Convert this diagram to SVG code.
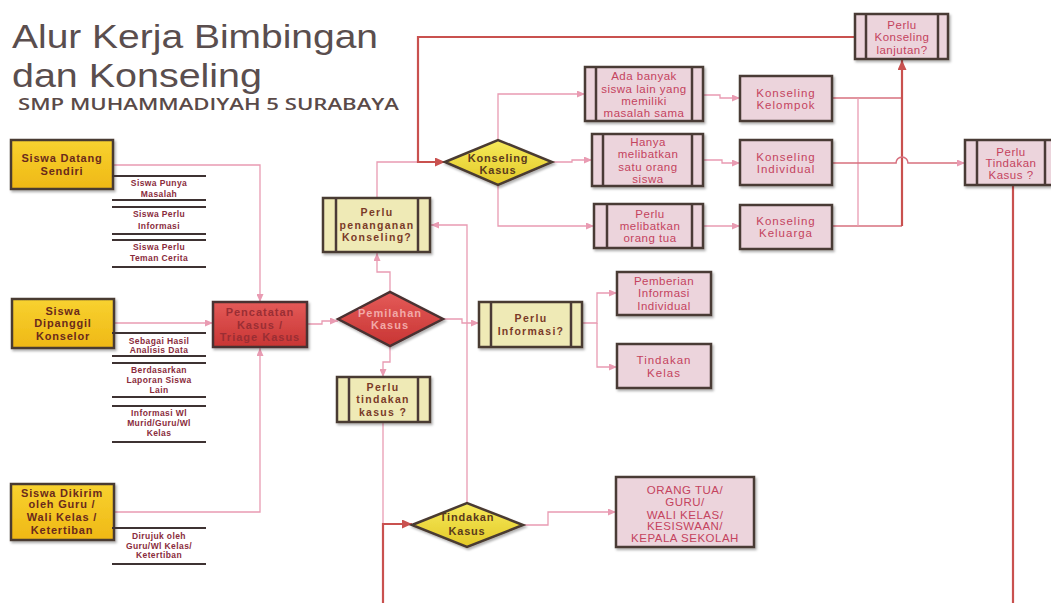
<svg xmlns="http://www.w3.org/2000/svg" width="1051" height="603" viewBox="0 0 1051 603">
<defs>
  <filter id="sh" x="-10%" y="-10%" width="130%" height="140%">
    <feDropShadow dx="1.5" dy="2" stdDeviation="1.2" flood-color="#000" flood-opacity="0.3"/>
  </filter>
  <linearGradient id="gold" x1="0" y1="0" x2="0" y2="1">
    <stop offset="0" stop-color="#f8d230"/><stop offset="1" stop-color="#efb815"/>
  </linearGradient>
  <linearGradient id="red" x1="0" y1="0" x2="0" y2="1">
    <stop offset="0" stop-color="#e45a58"/><stop offset="1" stop-color="#c83534"/>
  </linearGradient>
  <linearGradient id="ylw" x1="0" y1="0" x2="0" y2="1">
    <stop offset="0" stop-color="#f6ea5a"/><stop offset="1" stop-color="#e3c928"/>
  </linearGradient>
  <marker id="ap" viewBox="0 0 8 7" refX="8" refY="3.5" markerWidth="8" markerHeight="7" markerUnits="userSpaceOnUse" orient="auto">
    <path d="M0,0 L8,3.5 L0,7 z" fill="#e99bb2"/>
  </marker>
  <marker id="ar" viewBox="0 0 10 9" refX="10" refY="4.5" markerWidth="10" markerHeight="9" markerUnits="userSpaceOnUse" orient="auto">
    <path d="M0,0 L10,4.5 L0,9 z" fill="#c9514f"/>
  </marker>
</defs>
<style>
  .t{font-family:"Liberation Sans",Arial,sans-serif;text-anchor:middle}
  .gold{fill:url(#gold);stroke:#4a3a30;stroke-width:2.5}
  .pale{fill:#efeab6;stroke:#4a3a30;stroke-width:2.5}
  .pink{fill:#ecd4dc;stroke:#4a3a36;stroke-width:2.5}
  .redb{fill:url(#red);stroke:#4a3030;stroke-width:2.5}
  .ydia{fill:url(#ylw);stroke:#4a3a30;stroke-width:2.5}
  .div{stroke:#4a3a36;stroke-width:2.5}
  .c{fill:none;stroke:#e99bb2;stroke-width:1.3}
  .cr{fill:none;stroke:#c9514f;stroke-width:2.2}
  .cm{fill:none;stroke:#d7707e;stroke-width:1.6}
  .gt{font-size:11px;font-weight:bold;fill:#6a2a1c;letter-spacing:0.8px}
  .st{font-size:8.5px;font-weight:bold;fill:#8a2c3c;letter-spacing:0.4px}
  .pt{font-size:11.5px;fill:#c4435e;letter-spacing:0.5px}
  .kt{font-size:11.5px;fill:#c4435e;letter-spacing:1px}
  .yt{font-size:10.5px;font-weight:bold;fill:#7a3a28;letter-spacing:1.3px}
  .rt{font-size:11px;font-weight:bold;fill:#9a2e34;letter-spacing:1px}
  .rl{font-size:11px;font-weight:bold;fill:#f2aaa8;letter-spacing:1px}
  .dt{font-size:11px;font-weight:bold;fill:#5a3a1c;letter-spacing:0.8px}
  .sl{stroke:#3e3232;stroke-width:2.2}
  .title{font-family:"Liberation Sans",Arial,sans-serif;font-size:33px;fill:#5a4e4e}
  .sub{font-family:"Open Sans","Liberation Sans",sans-serif;font-size:17px;font-weight:600;fill:#5a4a48}
</style>

<g id="title">
  <text class="title" x="12" y="48" textLength="366" lengthAdjust="spacingAndGlyphs">Alur Kerja Bimbingan</text>
  <text class="title" x="12" y="87" textLength="250" lengthAdjust="spacingAndGlyphs">dan Konseling</text>
  <text class="sub" x="18" y="110" textLength="381" lengthAdjust="spacingAndGlyphs">SMP MUHAMMADIYAH 5 SURABAYA</text>
</g>

<g id="connectors">
  <path class="c" d="M114,165 H260 V302" marker-end="url(#ap)"/>
  <path class="c" d="M114,323 H213" marker-end="url(#ap)"/>
  <path class="c" d="M114,512 H260 V348" marker-end="url(#ap)"/>
  <path class="c" d="M307,324 H322 V321 H338" marker-end="url(#ap)"/>
  <path class="c" d="M390,292 V272 H377 V253" marker-end="url(#ap)"/>
  <path class="c" d="M390,346 V362 H383 V377" marker-end="url(#ap)"/>
  <path class="c" d="M443,319 H462 V323 H479" marker-end="url(#ap)"/>
  <path class="c" d="M377,198 V162 H418"/>
  <path class="cr" d="M855,37 H418 V162 H445" marker-end="url(#ar)"/>
  <path class="c" d="M498,140 V94 H585" marker-end="url(#ap)"/>
  <path class="c" d="M552,162 H572 V160 H592" marker-end="url(#ap)"/>
  <path class="c" d="M498,185 V226 H594" marker-end="url(#ap)"/>
  <path class="c" d="M703,95 H720 V98 H740" marker-end="url(#ap)"/>
  <path class="c" d="M703,160 H722 V163 H740" marker-end="url(#ap)"/>
  <path class="c" d="M703,226 H740" marker-end="url(#ap)"/>
  <path class="cm" d="M832,98 H902"/>
  <path class="cm" d="M832,226 H902"/>
  <path class="c" d="M858,98 V226"/>
  <path class="cr" d="M902,226 V60" marker-end="url(#ar)"/>
  <path class="cm" d="M832,163 H896 A6,6 0 0 1 908,163 H965" marker-end="url(#ap)"/>
  <path class="cr" d="M1013,185 V603"/>
  <path class="c" d="M383,422 V524"/>
  <path class="cr" d="M383,603 V524 H412" marker-end="url(#ar)"/>
  <path class="c" d="M467,503 V225 H431" marker-end="url(#ap)"/>
  <path class="c" d="M523,525 H548 V512 H616" marker-end="url(#ap)"/>
  <path class="c" d="M582,323 H597 V293 H617" marker-end="url(#ap)"/>
  <path class="c" d="M597,323 V367 H617" marker-end="url(#ap)"/>
</g>

<g id="siswa-datang">
  <rect class="gold" x="11" y="140" width="102" height="49" filter="url(#sh)"/>
  <text class="t gt" x="62" y="162">Siswa Datang</text>
  <text class="t gt" x="62" y="175">Sendiri</text>
</g>
<g id="list-datang">
  <line class="sl" x1="112" y1="176" x2="206" y2="176"/>
  <line class="sl" x1="112" y1="200" x2="206" y2="200"/>
  <line class="sl" x1="112" y1="207" x2="206" y2="207"/>
  <line class="sl" x1="112" y1="234" x2="206" y2="234"/>
  <line class="sl" x1="112" y1="240" x2="206" y2="240"/>
  <line class="sl" x1="112" y1="267" x2="206" y2="267"/>
  <text class="t st" x="159" y="186">Siswa Punya</text>
  <text class="t st" x="159" y="197">Masalah</text>
  <text class="t st" x="159" y="217">Siswa Perlu</text>
  <text class="t st" x="159" y="229">Informasi</text>
  <text class="t st" x="159" y="250">Siswa Perlu</text>
  <text class="t st" x="159" y="261">Teman Cerita</text>
</g>

<g id="siswa-dipanggil">
  <rect class="gold" x="12" y="299" width="102" height="49" filter="url(#sh)"/>
  <text class="t gt" x="63" y="315">Siswa</text>
  <text class="t gt" x="63" y="327">Dipanggil</text>
  <text class="t gt" x="63" y="340">Konselor</text>
</g>
<g id="list-dipanggil">
  <line class="sl" x1="112" y1="333" x2="206" y2="333"/>
  <line class="sl" x1="112" y1="356" x2="206" y2="356"/>
  <line class="sl" x1="112" y1="363" x2="206" y2="363"/>
  <line class="sl" x1="112" y1="397" x2="206" y2="397"/>
  <line class="sl" x1="112" y1="406" x2="206" y2="406"/>
  <line class="sl" x1="112" y1="442" x2="206" y2="442"/>
  <text class="t st" x="159" y="344">Sebagai Hasil</text>
  <text class="t st" x="159" y="353">Analisis Data</text>
  <text class="t st" x="159" y="373">Berdasarkan</text>
  <text class="t st" x="159" y="383">Laporan Siswa</text>
  <text class="t st" x="159" y="393">Lain</text>
  <text class="t st" x="159" y="416">Informasi Wl</text>
  <text class="t st" x="159" y="426">Murid/Guru/Wl</text>
  <text class="t st" x="159" y="436">Kelas</text>
</g>

<g id="siswa-dikirim">
  <rect class="gold" x="11" y="484" width="103" height="56" filter="url(#sh)"/>
  <text class="t gt" x="62" y="497">Siswa Dikirim</text>
  <text class="t gt" x="62" y="508">oleh Guru /</text>
  <text class="t gt" x="62" y="521">Wali Kelas /</text>
  <text class="t gt" x="62" y="534">Ketertiban</text>
</g>
<g id="list-dikirim">
  <line class="sl" x1="112" y1="528" x2="206" y2="528"/>
  <line class="sl" x1="112" y1="564" x2="206" y2="564"/>
  <text class="t st" x="159" y="539">Dirujuk oleh</text>
  <text class="t st" x="159" y="549">Guru/Wl Kelas/</text>
  <text class="t st" x="159" y="558">Ketertiban</text>
</g>

<g id="pencatatan">
  <rect class="redb" x="213" y="302" width="94" height="45" filter="url(#sh)"/>
  <text class="t rt" x="260" y="316">Pencatatan</text>
  <text class="t rt" x="260" y="329">Kasus /</text>
  <text class="t rt" x="260" y="341">Triage Kasus</text>
</g>

<g id="pemilahan">
  <polygon class="redb" points="338,319 390,292 443,319 390,346" filter="url(#sh)"/>
  <text class="t rl" x="390" y="317">Pemilahan</text>
  <text class="t rl" x="390" y="329">Kasus</text>
</g>

<g id="perlu-penanganan">
  <rect class="pale" x="323" y="198" width="107" height="54" filter="url(#sh)"/>
  <line class="div" x1="336" y1="198" x2="336" y2="252"/>
  <line class="div" x1="418" y1="198" x2="418" y2="252"/>
  <text class="t yt" x="377" y="216">Perlu</text>
  <text class="t yt" x="377" y="229">penanganan</text>
  <text class="t yt" x="377" y="241">Konseling?</text>
</g>

<g id="perlu-tindakan">
  <rect class="pale" x="337" y="377" width="93" height="45" filter="url(#sh)"/>
  <line class="div" x1="349" y1="377" x2="349" y2="422"/>
  <line class="div" x1="418" y1="377" x2="418" y2="422"/>
  <text class="t yt" x="383" y="391">Perlu</text>
  <text class="t yt" x="383" y="403">tindakan</text>
  <text class="t yt" x="383" y="416">kasus ?</text>
</g>

<g id="perlu-informasi">
  <rect class="pale" x="479" y="302" width="103" height="45" filter="url(#sh)"/>
  <line class="div" x1="491" y1="302" x2="491" y2="347"/>
  <line class="div" x1="571" y1="302" x2="571" y2="347"/>
  <text class="t yt" x="531" y="322">Perlu</text>
  <text class="t yt" x="531" y="335">Informasi?</text>
</g>

<g id="pemberian-informasi">
  <rect class="pink" x="617" y="272" width="94" height="43" filter="url(#sh)"/>
  <text class="t pt" x="664" y="285">Pemberian</text>
  <text class="t pt" x="664" y="297">Informasi</text>
  <text class="t pt" x="664" y="310">Individual</text>
</g>

<g id="tindakan-kelas">
  <rect class="pink" x="617" y="344" width="94" height="44" filter="url(#sh)"/>
  <text class="t kt" x="664" y="364">Tindakan</text>
  <text class="t kt" x="664" y="377">Kelas</text>
</g>

<g id="konseling-kasus">
  <polygon class="ydia" points="445,162 498,140 552,162 498,185" filter="url(#sh)"/>
  <text class="t dt" x="498" y="162">Konseling</text>
  <text class="t dt" x="498" y="174">Kasus</text>
</g>

<g id="tindakan-kasus">
  <polygon class="ydia" points="412,525 467,503 523,525 467,547" filter="url(#sh)"/>
  <text class="t dt" x="467" y="521">Tindakan</text>
  <text class="t dt" x="467" y="535">Kasus</text>
</g>

<g id="pihak-terkait">
  <rect class="pink" x="616" y="477" width="138" height="70" filter="url(#sh)"/>
  <text class="t pt" x="685" y="494">ORANG TUA/</text>
  <text class="t pt" x="685" y="506">GURU/</text>
  <text class="t pt" x="685" y="519">WALI KELAS/</text>
  <text class="t pt" x="685" y="530">KESISWAAN/</text>
  <text class="t pt" x="685" y="542">KEPALA SEKOLAH</text>
</g>

<g id="ada-banyak">
  <rect class="pink" x="585" y="67" width="118" height="54" filter="url(#sh)"/>
  <line class="div" x1="596" y1="67" x2="596" y2="121"/>
  <line class="div" x1="692" y1="67" x2="692" y2="121"/>
  <text class="t pt" x="644" y="80">Ada banyak</text>
  <text class="t pt" x="644" y="93">siswa lain yang</text>
  <text class="t pt" x="644" y="105">memiliki</text>
  <text class="t pt" x="644" y="117">masalah sama</text>
</g>

<g id="hanya-melibatkan">
  <rect class="pink" x="592" y="134" width="111" height="52" filter="url(#sh)"/>
  <line class="div" x1="603" y1="134" x2="603" y2="186"/>
  <line class="div" x1="692" y1="134" x2="692" y2="186"/>
  <text class="t pt" x="648" y="146">Hanya</text>
  <text class="t pt" x="648" y="158">melibatkan</text>
  <text class="t pt" x="648" y="171">satu orang</text>
  <text class="t pt" x="648" y="183">siswa</text>
</g>

<g id="perlu-melibatkan">
  <rect class="pink" x="594" y="204" width="109" height="44" filter="url(#sh)"/>
  <line class="div" x1="607" y1="204" x2="607" y2="248"/>
  <line class="div" x1="692" y1="204" x2="692" y2="248"/>
  <text class="t pt" x="650" y="218">Perlu</text>
  <text class="t pt" x="650" y="230">melibatkan</text>
  <text class="t pt" x="650" y="242">orang tua</text>
</g>

<g id="konseling-kelompok">
  <rect class="pink" x="740" y="76" width="92" height="45" filter="url(#sh)"/>
  <text class="t kt" x="786" y="97">Konseling</text>
  <text class="t kt" x="786" y="109">Kelompok</text>
</g>

<g id="konseling-individual">
  <rect class="pink" x="740" y="140" width="92" height="45" filter="url(#sh)"/>
  <text class="t kt" x="786" y="161">Konseling</text>
  <text class="t kt" x="786" y="173">Individual</text>
</g>

<g id="konseling-keluarga">
  <rect class="pink" x="740" y="205" width="92" height="44" filter="url(#sh)"/>
  <text class="t kt" x="786" y="225">Konseling</text>
  <text class="t kt" x="786" y="237">Keluarga</text>
</g>

<g id="perlu-konseling-lanjutan">
  <rect class="pink" x="855" y="14" width="93" height="45" filter="url(#sh)"/>
  <line class="div" x1="866" y1="14" x2="866" y2="59"/>
  <line class="div" x1="938" y1="14" x2="938" y2="59"/>
  <text class="t pt" x="902" y="29">Perlu</text>
  <text class="t pt" x="902" y="41">Konseling</text>
  <text class="t pt" x="902" y="54">lanjutan?</text>
</g>

<g id="perlu-tindakan-kasus">
  <rect class="pink" x="965" y="140" width="92" height="45" filter="url(#sh)"/>
  <line class="div" x1="977" y1="140" x2="977" y2="185"/>
  <line class="div" x1="1045" y1="140" x2="1045" y2="185"/>
  <text class="t pt" x="1011" y="156">Perlu</text>
  <text class="t pt" x="1011" y="167">Tindakan</text>
  <text class="t pt" x="1011" y="179">Kasus ?</text>
</g>
</svg>
